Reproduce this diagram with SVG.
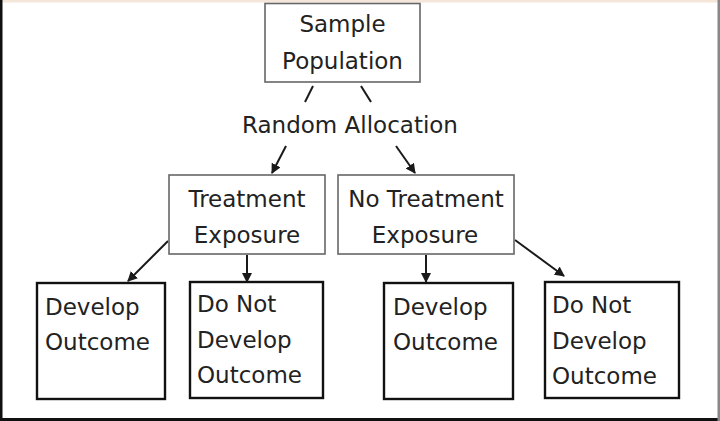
<svg xmlns="http://www.w3.org/2000/svg" width="720" height="421" viewBox="0 0 720 421">
<defs>
<style>
.t{font-family:"DejaVu Sans","Liberation Sans",sans-serif;font-size:23px;fill:#222}
.c{text-anchor:middle}
.top{fill:#fff;stroke:#666;stroke-width:1.6}
.bot{fill:#fff;stroke:#111;stroke-width:2.4}
.ln{stroke:#1a1a1a;stroke-width:2;fill:none}
</style>
<marker id="ah" viewBox="0 0 10 10" refX="9" refY="5" markerWidth="5" markerHeight="5" orient="auto" markerUnits="strokeWidth">
<path d="M0,0 L10,5 L0,10 z" fill="#1a1a1a"/>
</marker>
</defs>
<rect x="0" y="0" width="720" height="421" fill="#fff"/>
<rect x="0" y="0" width="720" height="2.5" fill="#f5e6da"/>
<rect x="0" y="0" width="2.5" height="421" fill="#111"/>
<rect x="0" y="418" width="720" height="3" fill="#111"/>
<rect x="717.5" y="0" width="2.5" height="421" fill="#888"/>

<g id="connectors">
<line class="ln" x1="313" y1="86" x2="305" y2="102"/>
<line class="ln" x1="361" y1="86" x2="371" y2="102"/>
<line class="ln" x1="286" y1="146" x2="272" y2="173" marker-end="url(#ah)"/>
<line class="ln" x1="396" y1="146" x2="415" y2="173" marker-end="url(#ah)"/>
<line class="ln" x1="168" y1="241" x2="128" y2="281" marker-end="url(#ah)"/>
<line class="ln" x1="247" y1="255" x2="247" y2="282" marker-end="url(#ah)"/>
<line class="ln" x1="426" y1="255" x2="426" y2="282" marker-end="url(#ah)"/>
<line class="ln" x1="515" y1="240" x2="564" y2="276" marker-end="url(#ah)"/>
</g>

<g id="sample">
<rect class="top" x="265" y="3.5" width="155" height="78.5"/>
<text class="t c" x="342.5" y="32">Sample</text>
<text class="t c" x="342.5" y="69">Population</text>
</g>

<g id="random">
<text class="t c" x="350" y="133">Random Allocation</text>
</g>

<g id="treatment">
<rect class="top" x="169" y="175" width="156" height="79"/>
<text class="t c" x="247" y="207">Treatment</text>
<text class="t c" x="247" y="243">Exposure</text>
</g>

<g id="notreatment">
<rect class="top" x="338" y="175" width="176" height="79"/>
<text class="t c" x="426" y="207">No Treatment</text>
<text class="t c" x="425" y="243">Exposure</text>
</g>

<g id="develop1">
<rect class="bot" x="37" y="283" width="128" height="116"/>
<text class="t" x="45" y="315">Develop</text>
<text class="t" x="45" y="350">Outcome</text>
</g>

<g id="notdevelop1">
<rect class="bot" x="190" y="282" width="133" height="116"/>
<text class="t" x="197" y="312">Do Not</text>
<text class="t" x="197" y="348">Develop</text>
<text class="t" x="197" y="383">Outcome</text>
</g>

<g id="develop2">
<rect class="bot" x="384" y="283" width="129" height="116"/>
<text class="t" x="393" y="315">Develop</text>
<text class="t" x="393" y="350">Outcome</text>
</g>

<g id="notdevelop2">
<rect class="bot" x="545" y="282" width="134" height="116"/>
<text class="t" x="552" y="313">Do Not</text>
<text class="t" x="552" y="349">Develop</text>
<text class="t" x="552" y="384">Outcome</text>
</g>
</svg>
